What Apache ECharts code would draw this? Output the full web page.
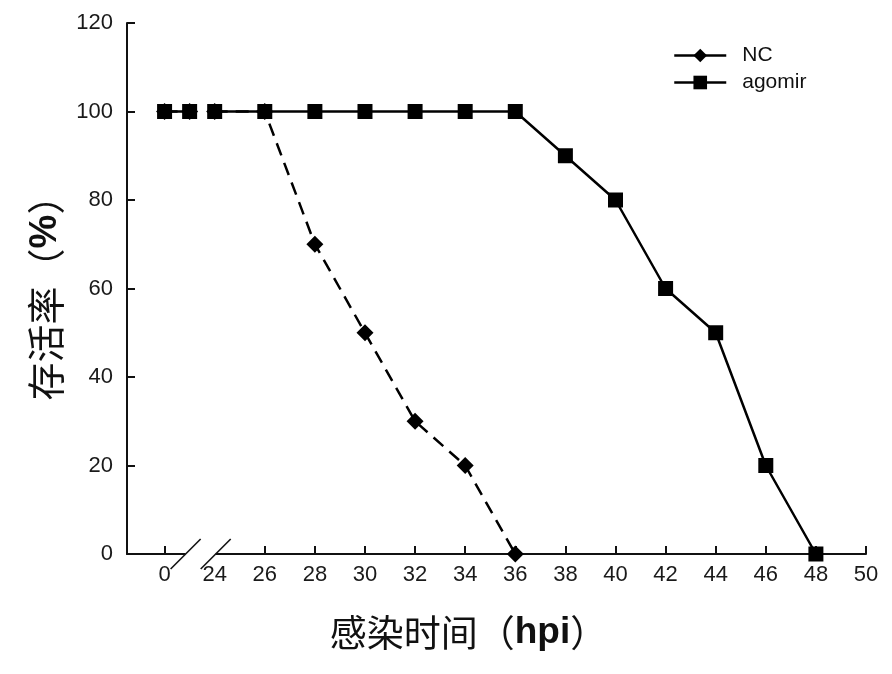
<!DOCTYPE html>
<html>
<head>
<meta charset="utf-8">
<script src="https://cdn.jsdelivr.net/npm/echarts@6.0.0/dist/echarts.min.js"></script>
<style>
html,body{margin:0;padding:0;background:#fff;}
#main{width:892px;height:674px;}
</style>
</head>
<body>
<div id="main"></div>
<script>
// 存活率曲线，x轴在 0 与 24 之间断开
var ncHours = [0, 1, 24, 26, 28, 30, 32, 34, 36]
var ncValues = [100, 100, 100, 100, 70, 50, 30, 20, 0]
var agomirHours = [0, 1, 24, 26, 28, 30, 32, 34, 36, 38, 40, 42, 44, 46, 48]
var agomirValues = [100, 100, 100, 100, 100, 100, 100, 100, 100, 90, 80, 60, 50, 20, 0]
var xTickLabels = [0, 24, 26, 28, 30, 32, 34, 36, 38, 40, 42, 44, 46, 48, 50]
var xTickMarks = [0, 26, 28, 30, 32, 34, 36, 38, 40, 42, 44, 46, 48, 50]

var BREAK_FROM = 1, BREAK_TO = 23
var numFont = '"Liberation Sans", Arial, sans-serif'
var cjkFont = '"Noto Sans CJK SC", sans-serif'

// hours -> position on the (compressed) axis
function toAxis(h) {
    if (h <= BREAK_FROM) return h
    if (h >= BREAK_TO) return h - (BREAK_TO - BREAK_FROM)
    return BREAK_FROM
}
function fromAxis(v) {
    return v <= BREAK_FROM ? v : v + (BREAK_TO - BREAK_FROM)
}
function buildData(hs, vs) {
    var out = []
    for (var i = 0; i < hs.length; i++) {
        // no line across the break
        if (i > 0 && hs[i - 1] <= BREAK_FROM && hs[i] >= BREAK_TO) out.push([toAxis(hs[i - 1]) + 0.5, null])
        out.push([toAxis(hs[i]), vs[i]])
    }
    return out
}

var chart = echarts.init(document.getElementById('main'))
var option = {
    animation: false,
    backgroundColor: '#fff',
    grid: {left: 127, right: 26, top: 23, bottom: 120, containLabel: false, outerBoundsMode: 'none'},
    legend: {
        data: ['NC', 'agomir'],
        orient: 'vertical',
        left: 668,
        top: 40,
        itemWidth: 52,
        itemHeight: 17,
        itemGap: 6,
        lineStyle: {type: 'solid', width: 2.5},
        textStyle: {fontFamily: numFont, fontSize: 21, color: '#111', padding: [0, 0, 0, 11]}
    },
    xAxis: {
        type: 'value',
        min: -1.5,
        max: toAxis(50),
        name: '{a|感染时间（}{b|hpi}{a|）}',
        nameLocation: 'middle',
        nameGap: 60,
        nameTextStyle: {
            padding: [0, 56, 0, 0],
            rich: {
                a: {fontFamily: cjkFont, fontSize: 37, color: '#111'},
                b: {fontFamily: numFont, fontSize: 37, fontWeight: 'bold', color: '#111'}
            }
        },
        axisLine: {show: true, onZero: false, lineStyle: {color: '#111', width: 2}},
        axisTick: {show: true, inside: true, length: 8, lineStyle: {color: '#111', width: 2},
            customValues: xTickMarks.map(toAxis)},
        axisLabel: {
            customValues: xTickLabels.map(toAxis),
            formatter: function (v) { return String(Math.round(fromAxis(v))) },
            fontFamily: numFont, fontSize: 22, color: '#1a1a1a', margin: 10
        },
        splitLine: {show: false}
    },
    yAxis: {
        type: 'value',
        min: 0,
        max: 120,
        interval: 20,
        name: '{a|存活率（}{b|%}{a|）}',
        nameLocation: 'middle',
        nameRotate: 90,
        nameGap: 62,
        nameTextStyle: {
            rich: {
                a: {fontFamily: cjkFont, fontSize: 38, color: '#111'},
                b: {fontFamily: numFont, fontSize: 38, fontWeight: 'bold', color: '#111'}
            }
        },
        axisLine: {show: true, onZero: false, lineStyle: {color: '#111', width: 2}},
        axisTick: {show: true, inside: true, length: 8, lineStyle: {color: '#111', width: 2}},
        axisLabel: {fontFamily: numFont, fontSize: 22, color: '#1a1a1a', margin: 14},
        splitLine: {show: false}
    },
    series: [
        {
            name: 'NC',
            type: 'line',
            data: buildData(ncHours, ncValues),
            symbol: 'diamond',
            symbolSize: 17,
            connectNulls: false,
            itemStyle: {color: '#000'},
            lineStyle: {color: '#000', width: 2.5, type: [13, 8]},
            z: 2
        },
        {
            name: 'agomir',
            type: 'line',
            data: buildData(agomirHours, agomirValues),
            symbol: 'rect',
            symbolSize: 15,
            connectNulls: false,
            itemStyle: {color: '#000'},
            lineStyle: {color: '#000', width: 2.5, type: 'solid'},
            z: 3
        }
    ]
}
chart.setOption(option)

// 断轴记号 //
function drawBreak() {
    var p0 = chart.convertToPixel({xAxisIndex: 0}, toAxis(0))
    var p24 = chart.convertToPixel({xAxisIndex: 0}, toAxis(24))
    var ay = chart.convertToPixel({yAxisIndex: 0}, 0)
    var s1 = p0 + (p24 - p0) * 0.42
    var s2 = p24 + 1
    var h = 15
    chart.setOption({
        graphic: [
            {type: 'rect', z: 100, shape: {x: s1, y: ay - 3, width: s2 - s1, height: 6}, style: {fill: '#fff'}},
            {type: 'line', z: 101, shape: {x1: s1 - h, y1: ay + h, x2: s1 + h, y2: ay - h}, style: {stroke: '#111', lineWidth: 1.6}},
            {type: 'line', z: 101, shape: {x1: s2 - h, y1: ay + h, x2: s2 + h, y2: ay - h}, style: {stroke: '#111', lineWidth: 1.6}}
        ]
    })
}
drawBreak()
</script>
</body>
</html>
